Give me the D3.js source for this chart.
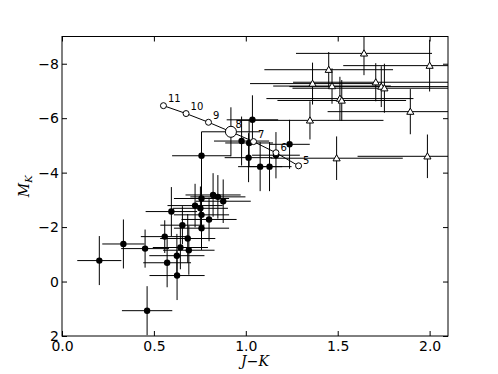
<!DOCTYPE html>
<html><head><meta charset="utf-8">
<script src="https://cdn.jsdelivr.net/npm/d3@7"></script>
<style>body{margin:0;background:#fff}svg{display:block}</style>
</head><body>
<svg id="c" width="498" height="374"></svg>
<script>
// Dwarfs (filled circles)
const dwarfJK   = [0.203,0.334,0.452,0.463,0.559,0.572,0.595,0.625,0.626,0.644,0.655,0.684,0.690,0.724,0.753,0.759,0.759,0.759,0.800,0.822,0.848,0.877,0.759,0.919,0.977,1.018,1.015,1.036,1.078,1.129,1.164,1.238];
const dwarfMK   = [-0.77,-1.38,-1.21,1.07,-1.65,-0.69,-2.57,-0.95,-0.22,-1.25,-2.07,-1.58,-1.15,-2.79,-2.69,-3.05,-2.45,-1.96,-2.28,-3.18,-3.11,-2.95,-4.62,-5.50,-5.16,-5.09,-4.55,-5.94,-4.22,-4.22,-4.64,-5.04];
const dwarfJKerr= [0.12,0.115,0.13,0.137,0.13,0.13,0.14,0.15,0.15,0.15,0.12,0.15,0.14,0.15,0.15,0.15,0.15,0.15,0.15,0.15,0.15,0.15,0.16,0.16,0.15,0.13,0.13,0.14,0.12,0.12,0.13,0.11];
const dwarfMKerr= [0.9,0.9,0.7,0.9,0.6,0.9,0.9,0.8,0.9,0.8,0.7,0.9,0.9,0.8,0.8,0.9,0.8,0.8,0.8,0.8,0.8,0.8,0.88,0.9,0.9,0.85,0.9,0.9,0.9,0.9,0.85,0.9];
// Giants (open triangles)
const giantJK   = [1.643,2.000,1.451,1.363,1.469,1.707,1.737,1.754,1.512,1.522,1.895,1.349,1.494,1.988];
const giantMK   = [-8.38,-7.93,-7.78,-7.27,-7.18,-7.32,-7.16,-7.10,-6.72,-6.65,-6.24,-5.92,-4.53,-4.60];
const giantJKerr= [0.37,0.47,0.35,0.34,0.32,0.45,0.50,0.50,0.40,0.35,0.45,0.40,0.36,0.38];
const giantMKerr= [0.80,0.95,0.65,0.77,0.65,0.70,0.75,0.90,0.80,0.75,0.83,0.70,0.80,0.80];
// Sequence (open circles with labels)
const seqLabels = ["5","6","7","8","9","10","11"];
const seqJK     = [1.287,1.164,1.042,0.919,0.797,0.675,0.552];
const seqMK     = [-4.25,-4.73,-5.14,-5.50,-5.85,-6.17,-6.46];
const xTicks = [0,0.5,1.0,1.5,2.0];
const yTicks = [2,0,-2,-4,-6,-8];

const L=62,R=448,T=36.5,B=336;
const x=d3.scaleLinear().domain([0,2.1]).range([L,R]);
const y=d3.scaleLinear().domain([-9,2]).range([T,B]);
const svg=d3.select("#c");
svg.append("defs").append("clipPath").attr("id","clip").append("rect").attr("x",L).attr("y",T).attr("width",R-L).attr("height",B-T);
const g=svg.append("g").attr("clip-path","url(#clip)");

function errbars(jk,mk,ex,ey){
  const d=jk.map((v,i)=>({x:v,y:mk[i],ex:ex[i],ey:ey[i]}));
  g.selectAll(null).data(d).enter().append("line")
   .attr("x1",d=>x(d.x-d.ex)).attr("x2",d=>x(d.x+d.ex)).attr("y1",d=>y(d.y)).attr("y2",d=>y(d.y))
   .attr("stroke","#000").attr("stroke-width",1);
  g.selectAll(null).data(d).enter().append("line")
   .attr("x1",d=>x(d.x)).attr("x2",d=>x(d.x)).attr("y1",d=>y(d.y-d.ey)).attr("y2",d=>y(d.y+d.ey))
   .attr("stroke","#000").attr("stroke-width",1);
  return d;
}
const dd=errbars(dwarfJK,dwarfMK,dwarfJKerr,dwarfMKerr);
const gd=errbars(giantJK,giantMK,giantJKerr,giantMKerr);
g.selectAll(null).data(dd).enter().append("circle")
 .attr("cx",d=>x(d.x)).attr("cy",d=>y(d.y)).attr("r",3.2).attr("fill","#000");
const tri=d3.symbol().type(d3.symbolTriangle).size(22);
g.selectAll(null).data(gd).enter().append("path").attr("d",tri)
 .attr("transform",d=>`translate(${x(d.x)},${y(d.y)+0.6})`)
 .attr("fill","#fff").attr("stroke","#000").attr("stroke-width",1);

// sequence
const sd=seqJK.map((v,i)=>({x:v,y:seqMK[i],l:seqLabels[i]}));
g.append("path").datum(sd).attr("d",d3.line().x(d=>x(d.x)).y(d=>y(d.y)))
 .attr("fill","none").attr("stroke","#000").attr("stroke-width",1);
g.selectAll(null).data(sd).enter().append("circle")
 .attr("cx",d=>x(d.x)).attr("cy",d=>y(d.y)).attr("r",d=>d.l==="8"?5.5:3)
 .attr("fill","#fff").attr("stroke","#000").attr("stroke-width",1);
g.selectAll(null).data(sd).enter().append("text")
 .attr("x",d=>x(d.x)+(d.l==="8"?4.5:4.5)).attr("y",d=>y(d.y)-(d.l==="5"||d.l==="6"?2:3.5))
 .attr("font-family","DejaVu Sans").attr("font-size",10).text(d=>d.l);

// axes
const font="DejaVu Sans";
const ax=svg.append("g").attr("transform",`translate(0,${B})`).call(d3.axisBottom(x).tickValues(xTicks).tickFormat(d3.format(".1f")).tickSizeInner(-5).tickSizeOuter(0).tickPadding(5));
const axT=svg.append("g").attr("transform",`translate(0,${T})`).call(d3.axisTop(x).tickValues(xTicks).tickFormat("").tickSizeInner(-5).tickSizeOuter(0));
const ay=svg.append("g").attr("transform",`translate(${L},0)`).call(d3.axisLeft(y).tickValues(yTicks).tickFormat(d3.format("d")).tickSizeInner(-5).tickSizeOuter(0).tickPadding(3));
const ayR=svg.append("g").attr("transform",`translate(${R},0)`).call(d3.axisRight(y).tickValues(yTicks).tickFormat("").tickSizeInner(-5).tickSizeOuter(0));
[ax,axT,ay,ayR].forEach(a=>{a.select(".domain").remove();a.selectAll(".tick line").attr("stroke","#000");a.selectAll("text").attr("font-family",font).attr("font-size",14).attr("fill","#000");});
svg.append("rect").attr("x",L).attr("y",T).attr("width",R-L).attr("height",B-T).attr("fill","none").attr("stroke","#000").attr("stroke-width",1);

// axis labels
const xl=svg.append("text").attr("x",(L+R)/2).attr("y",366).attr("text-anchor","middle").attr("font-family","DejaVu Serif").attr("font-size",14);
xl.append("tspan").attr("font-style","italic").text("J");
xl.append("tspan").text("−");
xl.append("tspan").attr("font-style","italic").text("K");
const yl=svg.append("text").attr("transform",`translate(29,${(T+B)/2}) rotate(-90)`).attr("text-anchor","middle").attr("font-family","DejaVu Serif").attr("font-size",14);
yl.append("tspan").attr("font-style","italic").text("M");
yl.append("tspan").attr("font-style","italic").attr("font-size",10).attr("dy",3).text("K");
</script>
</body></html>
